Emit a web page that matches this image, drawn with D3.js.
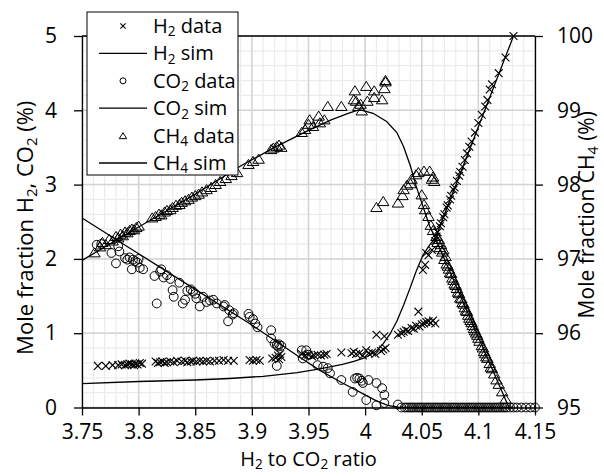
<!DOCTYPE html>
<html>
<head>
<meta charset="utf-8">
<script src="https://cdn.jsdelivr.net/npm/d3@7"></script>
<style>
  body { margin: 0; background: #fff; }
  text { font-family: "Open Sans", sans-serif; fill: #000; }
</style>
</head>
<body>
<div id="chart"></div>
<script>
// tick values (x = H2/CO2 ratio, left = H2 and CO2 %, right = CH4 %)
const xTicks = [3.75, 3.8, 3.85, 3.9, 3.95, 4, 4.05, 4.1, 4.15];
const leftTicks = [0, 1, 2, 3, 4, 5];
const rightTicks = [95, 96, 97, 98, 99, 100];

// measured points [ratio, mole fraction]
const h2Data = [
  [3.764,0.56],[3.771,0.56],[3.777,0.57],[3.782,0.57],[3.785,0.58],[3.788,0.57],[3.790,0.58],[3.792,0.59],
  [3.794,0.58],[3.796,0.57],[3.797,0.59],[3.799,0.58],[3.801,0.60],[3.803,0.59],
  [3.815,0.62],[3.817,0.60],[3.819,0.61],[3.821,0.62],[3.823,0.60],[3.825,0.61],[3.828,0.62],[3.831,0.61],
  [3.834,0.63],[3.838,0.62],[3.841,0.63],[3.843,0.61],[3.846,0.62],[3.848,0.63],[3.851,0.62],[3.854,0.63],
  [3.857,0.62],[3.860,0.63],[3.863,0.62],[3.867,0.63],[3.871,0.63],[3.875,0.64],[3.879,0.63],[3.884,0.63],
  [3.898,0.64],[3.901,0.63],[3.904,0.64],[3.907,0.63],
  [3.918,0.66],[3.921,0.67],[3.923,0.70],[3.924,0.65],[3.926,0.68],[3.925,0.72],
  [3.944,0.72],[3.947,0.70],[3.950,0.71],[3.953,0.69],[3.955,0.70],[3.958,0.71],[3.961,0.70],[3.964,0.71],[3.966,0.72],
  [3.979,0.74],[3.988,0.73],[3.990,0.75],[3.992,0.72],[3.995,0.73],[3.998,0.70],[4.001,0.77],[4.003,0.73],
  [4.006,0.74],[4.009,0.72],[4.014,0.76],[4.016,0.78],[4.018,0.80],
  [4.010,0.98],[4.017,0.96],
  [4.029,0.98],[4.032,1.00],[4.034,1.02],[4.036,1.04],[4.038,1.03],[4.041,1.07],[4.043,1.06],[4.045,1.10],
  [4.047,1.29],[4.048,1.09],[4.050,1.12],[4.052,1.13],[4.054,1.15],[4.056,1.16],[4.058,1.14],[4.060,1.17],[4.062,1.13],
  [4.051,1.85],[4.053,1.92],[4.054,2.08],[4.056,2.05],[4.059,2.12],[4.062,2.24],[4.063,2.30],[4.064,2.36],
  [4.066,2.44],[4.067,2.48],[4.069,2.56],[4.070,2.60],[4.072,2.69],[4.073,2.72],[4.075,2.80],[4.076,2.85],
  [4.078,2.93],[4.079,2.96],[4.081,3.05],[4.083,3.12],[4.084,3.17],[4.086,3.24],[4.088,3.33],[4.090,3.42],
  [4.092,3.51],[4.094,3.58],[4.097,3.70],[4.100,3.83],[4.103,3.94],[4.106,4.05],[4.108,4.14],[4.110,4.28],
  [4.112,4.35],[4.118,4.50],[4.124,4.71],[4.131,5.0]
];

const co2Data = [
  [3.763,2.19],[3.767,2.20],[3.776,2.08],[3.780,1.94],[3.782,2.17],[3.783,2.10],[3.788,2.01],[3.790,1.99],
  [3.792,2.02],[3.794,1.86],[3.795,1.99],[3.797,1.97],[3.799,1.95],[3.800,2.00],[3.801,1.88],[3.804,1.86],
  [3.814,1.77],[3.816,1.40],[3.819,1.83],[3.820,1.86],[3.822,1.75],[3.825,1.78],[3.828,1.73],[3.830,1.58],
  [3.831,1.49],[3.836,1.68],[3.839,1.40],[3.841,1.45],[3.843,1.57],[3.846,1.59],[3.848,1.56],[3.850,1.53],
  [3.851,1.47],[3.854,1.36],[3.857,1.49],[3.860,1.42],[3.863,1.44],[3.866,1.45],[3.869,1.40],
  [3.875,1.36],[3.876,1.38],[3.879,1.16],[3.880,1.31],[3.883,1.25],[3.884,1.27],
  [3.897,1.26],[3.898,1.22],[3.901,1.19],[3.903,1.13],[3.905,1.08],
  [3.917,1.04],[3.917,0.93],[3.920,0.86],[3.922,0.84],[3.923,0.82],[3.924,0.85],[3.922,0.56],[3.926,0.83],
  [3.944,0.77],[3.945,0.66],[3.948,0.77],[3.950,0.71],
  [3.958,0.57],[3.963,0.55],[3.967,0.53],[3.969,0.46],[3.979,0.37],[3.989,0.21],
  [3.991,0.39],[3.993,0.40],[3.995,0.39],[3.997,0.36],[3.998,0.33],[4.003,0.37],[4.001,0.10],
  [4.010,0.33],[4.015,0.26],[4.017,0.17],[4.010,0.03],[4.017,0.06],[4.029,0.04],
  [4.032,0],[4.035,0],[4.037,0],[4.039,0],[4.041,0],[4.043,0],[4.045,0],[4.047,0],[4.049,0],[4.051,0],
  [4.053,0],[4.055,0],[4.057,0],[4.059,0],[4.061,0],[4.063,0],[4.065,0],[4.067,0],[4.069,0],[4.071,0],
  [4.073,0],[4.075,0],[4.077,0],[4.079,0],[4.081,0],[4.083,0],[4.085,0],[4.087,0],[4.089,0],[4.091,0],
  [4.093,0],[4.095,0],[4.097,0],[4.099,0],[4.101,0],[4.103,0],[4.105,0],[4.107,0],[4.109,0],[4.111,0],
  [4.113,0],[4.115,0],[4.117,0],[4.119,0],[4.121,0],[4.123,0],[4.125,0],[4.128,0],[4.131,0],[4.134,0],
  [4.138,0],[4.142,0],[4.146,0],[4.150,0]
];

const ch4Data = [
  [3.761,97.08],[3.766,97.16],[3.768,97.22],[3.771,97.19],[3.774,97.26],[3.777,97.24],[3.780,97.30],[3.782,97.28],
  [3.784,97.33],[3.786,97.31],[3.788,97.36],[3.790,97.35],[3.792,97.38],[3.794,97.40],[3.796,97.39],[3.798,97.42],[3.800,97.44],
  [3.812,97.55],[3.815,97.57],[3.818,97.60],[3.820,97.59],[3.823,97.63],[3.825,97.65],[3.828,97.66],[3.830,97.69],
  [3.833,97.72],[3.836,97.73],[3.838,97.76],[3.841,97.78],[3.844,97.80],[3.847,97.83],[3.850,97.85],[3.853,97.87],
  [3.856,97.90],[3.860,97.93],[3.864,97.96],[3.868,98.00],[3.872,98.04],[3.877,98.08],[3.882,98.12],[3.887,98.16],
  [3.897,98.27],[3.901,98.31],[3.906,98.34],[3.917,98.47],[3.919,98.49],[3.922,98.51],[3.924,98.53],[3.926,98.50],
  [3.944,98.70],[3.947,98.74],[3.950,98.81],[3.951,98.87],[3.954,98.78],[3.959,98.92],[3.960,98.83],[3.964,98.87],
  [3.967,99.05],[3.979,99.05],
  [3.990,99.14],[3.992,99.12],[3.994,99.05],[3.997,98.99],[3.996,99.08],[3.991,99.26],[4.001,99.32],[4.002,99.12],
  [4.008,99.26],[4.008,99.17],[4.015,99.14],[4.017,99.29],[4.018,99.40],[4.018,99.38],
  [4.010,97.69],[4.016,97.77],[4.029,97.75],[4.033,97.85],[4.034,97.93],[4.037,97.99],[4.040,98.01],[4.041,98.07],
  [4.045,98.13],[4.047,98.16],[4.052,98.18],[4.057,98.18],[4.059,98.07],[4.061,98.04],[4.060,98.10],
  [4.050,97.86],[4.052,97.73],[4.053,97.66],[4.056,97.57],[4.058,97.45],[4.060,97.38],
  [4.063,97.30],[4.064,97.22],[4.065,97.26],[4.066,97.15],[4.067,97.19],[4.068,97.09],[4.069,97.12],[4.070,96.99],
  [4.071,97.03],[4.072,96.93],[4.073,96.90],[4.074,96.86],[4.075,96.81],[4.076,96.80],[4.077,96.74],[4.078,96.71],
  [4.079,96.66],[4.080,96.64],[4.081,96.60],[4.082,96.55],[4.083,96.53],[4.084,96.47],[4.085,96.46],[4.086,96.41],
  [4.087,96.39],[4.088,96.34],[4.089,96.30],[4.090,96.29],[4.091,96.24],[4.092,96.20],[4.093,96.17],[4.094,96.14],
  [4.095,96.10],[4.096,96.06],[4.097,96.03],[4.098,96.00],[4.099,95.97],[4.100,95.93],[4.101,95.89],[4.103,95.83],
  [4.104,95.80],[4.105,95.75],[4.106,95.72],[4.107,95.68],[4.108,95.66],[4.110,95.59],[4.111,95.54],[4.112,95.52],
  [4.114,95.45],[4.116,95.37],[4.118,95.31],[4.121,95.21],[4.124,95.11]
];

// simulation curves
const h2Sim = [
  [3.75,0.32],[3.80,0.35],[3.85,0.37],[3.88,0.39],[3.91,0.42],[3.94,0.47],[3.96,0.52],[3.98,0.58],[3.99,0.62],
  [4.00,0.67],[4.01,0.76],[4.016,0.86],[4.022,0.99],[4.028,1.16],[4.034,1.38],[4.040,1.62],[4.045,1.83],
  [4.051,2.05],[4.057,2.19],[4.062,2.28],[4.131,5.0]
];
const co2Sim = [
  [3.75,2.55],[3.80,2.07],[3.85,1.59],[3.90,1.11],[3.94,0.70],[3.96,0.50],[3.98,0.33],[4.00,0.17],
  [4.01,0.09],[4.02,0.03],[4.03,0.0],[4.13,0.0]
];
const ch4Sim = [
  [3.75,96.98],[3.80,97.43],[3.85,97.87],[3.89,98.25],[3.92,98.50],[3.95,98.73],[3.97,98.87],[3.985,98.96],
  [3.995,99.01],[4.007,98.96],[4.019,98.85],[4.028,98.70],[4.034,98.51],[4.040,98.25],[4.045,97.98],
  [4.051,97.71],[4.057,97.44],[4.062,97.28],[4.127,95.0]
];

const margin = {top: 36, right: 69, bottom: 68.5, left: 82},
      width = 604 - margin.left - margin.right,
      height = 476 - margin.top - margin.bottom;

const svg = d3.select("#chart").append("svg")
    .attr("width", 604).attr("height", 476)
    .append("g")
    .attr("transform", `translate(${margin.left},${margin.top})`);

const x = d3.scaleLinear().domain([3.75, 4.15]).range([0, width]);
const yL = d3.scaleLinear().domain([0, 5]).range([height, 0]);
const yR = d3.scaleLinear().domain([95, 100]).range([height, 0]);

// minor grid then major grid
svg.append("g").selectAll("line").data(x.ticks(40)).join("line")
    .attr("x1", d => x(d)).attr("x2", d => x(d)).attr("y1", 0).attr("y2", height)
    .attr("stroke", "#ececec").attr("stroke-width", 1.2);
svg.append("g").selectAll("line").data(yL.ticks(25)).join("line")
    .attr("y1", d => yL(d)).attr("y2", d => yL(d)).attr("x1", 0).attr("x2", width)
    .attr("stroke", "#ececec").attr("stroke-width", 1.2);
svg.append("g").selectAll("line").data(xTicks).join("line")
    .attr("x1", d => x(d)).attr("x2", d => x(d)).attr("y1", 0).attr("y2", height)
    .attr("stroke", "#d4d4d4").attr("stroke-width", 1.5);
svg.append("g").selectAll("line").data(leftTicks).join("line")
    .attr("y1", d => yL(d)).attr("y2", d => yL(d)).attr("x1", 0).attr("x2", width)
    .attr("stroke", "#d4d4d4").attr("stroke-width", 1.5);

// sim lines
const lineL = d3.line().x(d => x(d[0])).y(d => yL(d[1]));
const lineR = d3.line().x(d => x(d[0])).y(d => yR(d[1]));
[[h2Sim, lineL], [co2Sim, lineL], [ch4Sim, lineR]].forEach(([data, gen]) => {
    svg.append("path").datum(data).attr("d", gen)
        .attr("fill", "none").attr("stroke", "#000").attr("stroke-width", 1.3);
});

// markers
const cross = s => `M${-s},${-s}L${s},${s}M${-s},${s}L${s},${-s}`;
const tri = s => `M0,${-s}L${s*1.1},${s*0.75}L${-s*1.1},${s*0.75}Z`;

svg.append("g").selectAll("circle").data(co2Data).join("circle")
    .attr("cx", d => x(d[0])).attr("cy", d => yL(d[1])).attr("r", 4.4)
    .attr("fill", "none").attr("stroke", "#000").attr("stroke-width", 1);

svg.append("g").selectAll("path").data(h2Data).join("path")
    .attr("transform", d => `translate(${x(d[0])},${yL(d[1])})`)
    .attr("d", cross(3.9)).attr("fill", "none").attr("stroke", "#000").attr("stroke-width", 1.1);

svg.append("g").selectAll("path").data(ch4Data).join("path")
    .attr("transform", d => `translate(${x(d[0])},${yR(d[1])})`)
    .attr("d", tri(5.2)).attr("fill", "none").attr("stroke", "#000").attr("stroke-width", 1);

// frame and axes
svg.append("line").attr("x1", 0).attr("x2", width).attr("y1", 0).attr("y2", 0)
    .attr("stroke", "#000").attr("stroke-width", 1.3);

const fmt = d => String(d);
const xAxis = svg.append("g").attr("transform", `translate(0,${height})`)
    .call(d3.axisBottom(x).tickValues(xTicks).tickSize(8).tickSizeOuter(0).tickPadding(9).tickFormat(fmt));
const lAxis = svg.append("g")
    .call(d3.axisLeft(yL).tickValues(leftTicks).tickSize(8).tickSizeOuter(0).tickPadding(17).tickFormat(fmt));
const rAxis = svg.append("g").attr("transform", `translate(${width},0)`)
    .call(d3.axisRight(yR).tickValues(rightTicks).tickSize(8).tickSizeOuter(0).tickPadding(14).tickFormat(fmt));

[xAxis, lAxis, rAxis].forEach(g => {
    g.selectAll("path, line").attr("stroke", "#000").attr("stroke-width", 1.3);
    g.selectAll("text").style("font-family", "'Open Sans', sans-serif").style("font-size", "21px").attr("fill", "#000");
});

// text with subscripts: [text, isSub]
function richText(sel, parts) {
    let lowered = false;
    parts.forEach(p => {
        const t = sel.append("tspan").text(p[0]);
        if (p[1]) {
            t.attr("dy", "0.25em").style("font-size", "0.68em");
            lowered = true;
        } else if (lowered) {
            t.attr("dy", "-0.17em");
            lowered = false;
        }
    });
    return sel;
}

richText(svg.append("text").attr("text-anchor", "middle")
    .attr("x", width / 2).attr("y", height + 58).style("font-size", "20px"),
    [["H", 0], ["2", 1], [" to CO", 0], ["2", 1], [" ratio", 0]]);

richText(svg.append("text").attr("text-anchor", "middle")
    .attr("transform", `translate(${33 - margin.left},${height / 2 + 6}) rotate(-90)`).style("font-size", "22px"),
    [["Mole fraction H", 0], ["2", 1], [", CO", 0], ["2", 1], [" (%)", 0]]);

richText(svg.append("text").attr("text-anchor", "middle")
    .attr("transform", `translate(${width + 59},${height / 2 - 7}) rotate(-90)`).style("font-size", "21px"),
    [["Mole fraction CH", 0], ["4", 1], [" (%)", 0]]);

// legend
const leg = svg.append("g").attr("transform", `translate(${87 - margin.left},${12 - margin.top})`);
leg.append("rect").attr("width", 151).attr("height", 163)
    .attr("fill", "#fff").attr("stroke", "#000").attr("stroke-width", 1);

const legendItems = [
    {label: [["H", 0], ["2", 1], [" data", 0]], kind: "cross"},
    {label: [["H", 0], ["2", 1], [" sim", 0]], kind: "line"},
    {label: [["CO", 0], ["2", 1], [" data", 0]], kind: "circle"},
    {label: [["CO", 0], ["2", 1], [" sim", 0]], kind: "line"},
    {label: [["CH", 0], ["4", 1], [" data", 0]], kind: "tri"},
    {label: [["CH", 0], ["4", 1], [" sim", 0]], kind: "line"}
];
legendItems.forEach((it, i) => {
    const cy = 14 + i * 27.4;
    const g = leg.append("g").attr("transform", `translate(0,${cy})`);
    if (it.kind === "line") {
        g.append("line").attr("x1", 12).attr("x2", 60).attr("stroke", "#000").attr("stroke-width", 1.3);
    } else if (it.kind === "cross") {
        g.append("path").attr("transform", "translate(36,0)").attr("d", cross(2.6))
            .attr("stroke", "#000").attr("stroke-width", 1.1);
    } else if (it.kind === "circle") {
        g.append("circle").attr("cx", 36).attr("r", 3).attr("fill", "none").attr("stroke", "#000");
    } else {
        g.append("path").attr("transform", "translate(36,0.5)").attr("d", tri(3.4))
            .attr("fill", "none").attr("stroke", "#000");
    }
    richText(g.append("text").attr("x", 66).attr("y", 7).style("font-size", "20px"), it.label);
});
</script>
</body>
</html>
